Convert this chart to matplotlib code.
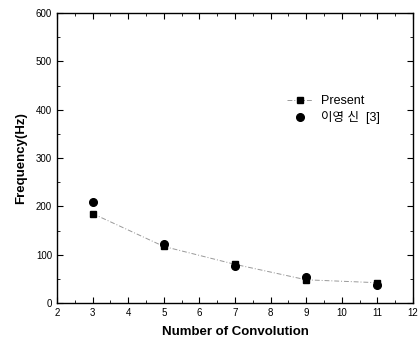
import matplotlib
matplotlib.use("Agg")
import matplotlib.pyplot as plt
from matplotlib.ticker import MultipleLocator

plt.rcParams['font.family'] = ['Liberation Sans', 'Noto Sans CJK KR', 'DejaVu Sans']

# Data
convolutions = [3, 5, 7, 9, 11]
present = [185, 117, 80, 48, 42]
reference = [208, 122, 76, 53, 37]

fig = plt.figure(figsize=(4.19, 3.47), dpi=100)
ax = fig.add_axes([57 / 419, 1 - 303 / 347, (413 - 57) / 419, (303 - 13) / 347])

ax.plot(convolutions, present, color='#999999', linestyle=(0, (5, 2, 1, 2)), linewidth=0.7,
        marker='s', markersize=5, markerfacecolor='black', markeredgecolor='black',
        label='Present')
ax.plot(convolutions, reference, linestyle='none', marker='o', markersize=5.5,
        color='black', label='이영 신  [3]')

ax.set_xlim(2, 12)
ax.set_ylim(0, 600)
ax.xaxis.set_major_locator(MultipleLocator(1))
ax.xaxis.set_minor_locator(MultipleLocator(0.5))
ax.yaxis.set_major_locator(MultipleLocator(100))
ax.yaxis.set_minor_locator(MultipleLocator(50))
ax.tick_params(which='both', direction='in', top=True, right=True, labelsize=7)
ax.tick_params(which='major', length=4)
ax.tick_params(which='minor', length=2)
for s in ax.spines.values():
    s.set_linewidth(1.0)

ax.set_xlabel('Number of Convolution', fontsize=9.5, fontweight='bold', labelpad=6)
ax.set_ylabel('Frequency(Hz)', fontsize=9.5, fontweight='bold', labelpad=6)

ax.legend(loc='upper left', bbox_to_anchor=(0.615, 0.755), frameon=False, fontsize=9,
          handlelength=2.0, handletextpad=0.7, labelspacing=0.3)

fig.savefig('out.png', dpi=100, facecolor='white')
